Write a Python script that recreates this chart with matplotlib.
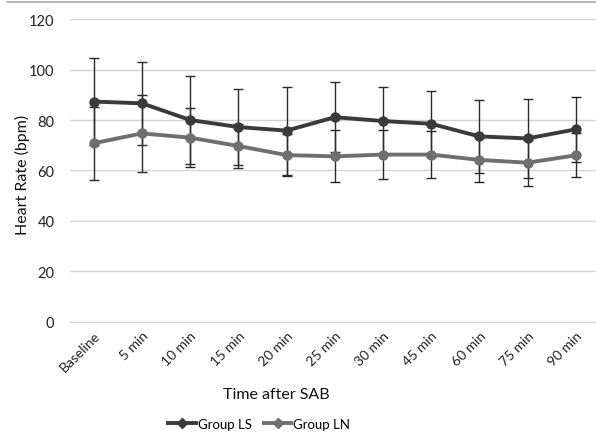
import matplotlib.pyplot as plt
from matplotlib.lines import Line2D

# data
times = ['Baseline', '5 min', '10 min', '15 min', '20 min', '25 min',
         '30 min', '45 min', '60 min', '75 min', '90 min']
ls_mean = [87.3, 86.6, 80.0, 77.2, 75.8, 81.1, 79.6, 78.5, 73.5, 72.7, 76.3]
ls_sd = [17.1, 16.5, 17.4, 14.9, 17.4, 13.9, 13.6, 13.0, 14.4, 15.6, 12.8]
ln_mean = [70.8, 74.7, 73.0, 69.7, 66.1, 65.6, 66.3, 66.3, 64.2, 63.1, 66.0]
ln_sd = [14.5, 15.2, 11.8, 8.9, 8.3, 10.3, 9.7, 9.2, 8.9, 9.1, 8.7]
yticks = [0, 20, 40, 60, 80, 100, 120]

plt.rcParams['font.family'] = ['Lato', 'DejaVu Sans']

fig = plt.figure(figsize=(5.96, 4.35), dpi=100)
ax = fig.add_axes([0.117, 0.2575, 0.883, 0.6965])

x = list(range(len(times)))
ax.errorbar(x, ls_mean, yerr=ls_sd, fmt='none', ecolor='#2a2a2a',
            elinewidth=1.0, capsize=3.5, capthick=1.0, zorder=2)
ax.errorbar(x, ln_mean, yerr=ln_sd, fmt='none', ecolor='#2a2a2a',
            elinewidth=1.0, capsize=3.5, capthick=1.0, zorder=2)
ax.plot(x, ls_mean, color='#3a3a3a', lw=2.8, marker='o', ms=6.5, zorder=4)
ax.plot(x, ln_mean, color='#6f6f6f', lw=2.8, marker='o', ms=6.5, zorder=3)

ax.set_xlim(-0.5, -0.5 + 526.4 / 48.2)
ax.set_ylim(0, 120)
ax.set_yticks(yticks)
ax.set_yticklabels([str(v) for v in yticks], fontsize=10.5, color='#222222')
ax.set_xticks(x)
ax.set_xticklabels(times, rotation=45, ha='right', rotation_mode='anchor',
                   fontsize=10, color='#222222')
ax.tick_params(axis='y', length=0, pad=11)
ax.tick_params(axis='x', length=0, pad=5)
ax.grid(axis='y', color='#d4d4d4', lw=1.0)
ax.set_axisbelow(True)
for s in ax.spines.values():
    s.set_visible(False)
ax.spines['bottom'].set_visible(True)
ax.spines['bottom'].set_color('#d4d4d4')

fig.text(0.037, 0.598, 'Heart Rate (bpm)', rotation=90, ha='center',
         va='center', fontsize=11.5, color='#111111')
fig.text(0.463, 0.093, 'Time after SAB', ha='center', va='center',
         fontsize=11.5, color='#111111')

# top border line
fig.add_artist(Line2D([0.012, 1.0], [0.993, 0.993], color='#aaaaaa', lw=1.2))

handles = [Line2D([], [], color='#3a3a3a', lw=2.8, marker='D', ms=5),
           Line2D([], [], color='#6f6f6f', lw=2.8, marker='D', ms=5)]
fig.legend(handles, ['Group LS', 'Group LN'], loc='center',
           bbox_to_anchor=(0.435, 0.024), ncol=2, frameon=False,
           fontsize=9.5, handlelength=2.1, handletextpad=0.15,
           columnspacing=0.9)

fig.savefig('out.png', dpi=100)
